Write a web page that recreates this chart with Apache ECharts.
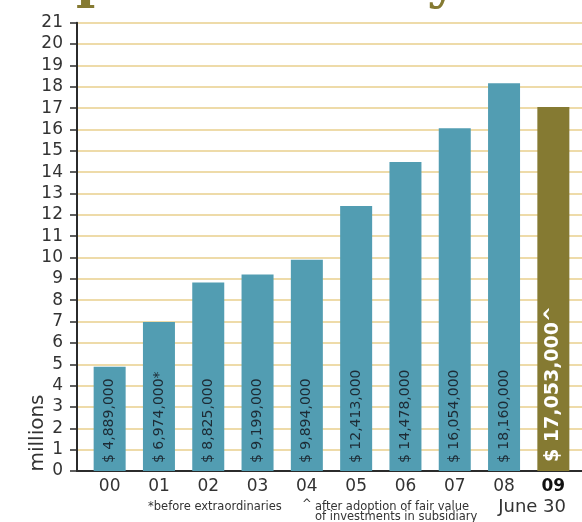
<!DOCTYPE html>
<html>
<head>
<meta charset="utf-8">
<script src="https://cdn.jsdelivr.net/npm/echarts@6/dist/echarts.min.js"></script>
<style>
  html, body { margin: 0; padding: 0; background: #ffffff; }
  #chart { width: 582px; height: 522px; }
</style>
</head>
<body>
<div id="chart"></div>
<script>
// Profit per year, in millions of dollars
const years = ['00', '01', '02', '03', '04', '05', '06', '07', '08', '09'];
const profits = [4.889, 6.974, 8.825, 9.199, 9.894, 12.413, 14.478, 16.054, 18.160, 17.053];
const labelMarks = ['', '*', '', '', '', '', '', '', '', '^'];
const yTicks = [0, 21, 1]; // min, max, interval

const TEAL = '#529db2';
const OLIVE = '#857a32';
const GRIDLINE = '#e8cf8c';
const INK = '#2b2b2b';
const FONT = 'DejaVu Sans';

const last = years.length - 1;

function money(v) {
  return '$ ' + Math.round(v * 1e6).toLocaleString('en-US');
}

const barData = profits.map((v, i) => {
  const item = { value: v };
  if (i === last) {
    item.itemStyle = { color: OLIVE };
    item.label = {
      color: '#ffffff',
      fontSize: 19,
      fontWeight: 'bold',
      distance: 9
    };
  }
  return item;
});

const chart = echarts.init(document.getElementById('chart'), null, { renderer: 'canvas' });

chart.setOption({
  animation: false,
  backgroundColor: '#ffffff',
  textStyle: { fontFamily: FONT },
  grid: [
    { left: 77, right: 0, top: 22.7, bottom: 51, outerBoundsMode: 'none', containLabel: false },
    { left: 85, right: 4, top: 22.7, bottom: 51, outerBoundsMode: 'none', containLabel: false }
  ],
  xAxis: [
    {
      gridIndex: 0, type: 'value', min: 0, max: 1,
      axisLine: { show: true, lineStyle: { color: INK, width: 2 } },
      axisTick: { show: false }, axisLabel: { show: false }, splitLine: { show: false }
    },
    {
      gridIndex: 1, type: 'category', data: years,
      axisLine: { show: false }, axisTick: { show: false },
      axisLabel: {
        interval: 0,
        margin: 7,
        fontFamily: FONT, fontSize: 17, color: '#333333',
        formatter: (val, idx) => idx === last ? '{b|' + val + '}' : val,
        rich: {
          b: { fontFamily: FONT, fontSize: 17, fontWeight: 'bold', color: '#111111' }
        }
      }
    }
  ],
  yAxis: [
    {
      gridIndex: 0, type: 'value', min: yTicks[0], max: yTicks[1], interval: yTicks[2],
      axisLine: { show: true, lineStyle: { color: INK, width: 2 } },
      axisTick: { show: true, inside: false, length: 7, lineStyle: { color: INK, width: 1.5 } },
      axisLabel: { margin: 14, fontFamily: FONT, fontSize: 17, color: '#333333' },
      splitLine: { show: true, lineStyle: { color: GRIDLINE, width: 1.5 } }
    },
    {
      gridIndex: 1, type: 'value', min: yTicks[0], max: yTicks[1], interval: yTicks[2],
      show: false
    }
  ],
  series: [
    {
      type: 'bar',
      xAxisIndex: 1, yAxisIndex: 1,
      barWidth: 32,
      itemStyle: { color: TEAL },
      data: barData,
      label: {
        show: true,
        position: 'insideBottom',
        rotate: 90,
        align: 'left',
        verticalAlign: 'middle',
        distance: 8,
        fontFamily: FONT,
        fontSize: 14,
        color: '#1d2b35',
        formatter: p => money(p.value) + labelMarks[p.dataIndex]
      }
    }
  ],
  graphic: [
    {
      type: 'text', x: 76, y: -17,
      style: {
        text: 'profit history',
        font: 'bold 52px "DejaVu Serif"',
        fill: OLIVE,
        verticalAlign: 'middle'
      }
    },
    {
      type: 'text', x: 37.5, y: 433, rotation: Math.PI / 2,
      style: {
        text: 'millions',
        font: '20px "DejaVu Sans"',
        fill: '#333333',
        align: 'center', verticalAlign: 'middle'
      }
    },
    {
      // date note under the last category
      type: 'text', x: 566, y: 507,
      style: { text: 'June 30', font: '18px "DejaVu Sans"', fill: '#333333', align: 'right', verticalAlign: 'middle' }
    },
    {
      type: 'text', x: 148, y: 507,
      style: { text: '*before extraordinaries', font: '11.5px "DejaVu Sans"', fill: '#333333', verticalAlign: 'middle' }
    },
    {
      type: 'text', x: 302, y: 505,
      style: { text: '^', font: '11.5px "DejaVu Sans"', fill: '#333333', verticalAlign: 'middle' }
    },
    {
      type: 'text', x: 315, y: 507,
      style: { text: 'after adoption of fair value', font: '11.5px "DejaVu Sans"', fill: '#333333', verticalAlign: 'middle' }
    },
    {
      type: 'text', x: 315, y: 517,
      style: { text: 'of investments in subsidiary', font: '11.5px "DejaVu Sans"', fill: '#333333', verticalAlign: 'middle' }
    }
  ]
});
</script>
</body>
</html>
